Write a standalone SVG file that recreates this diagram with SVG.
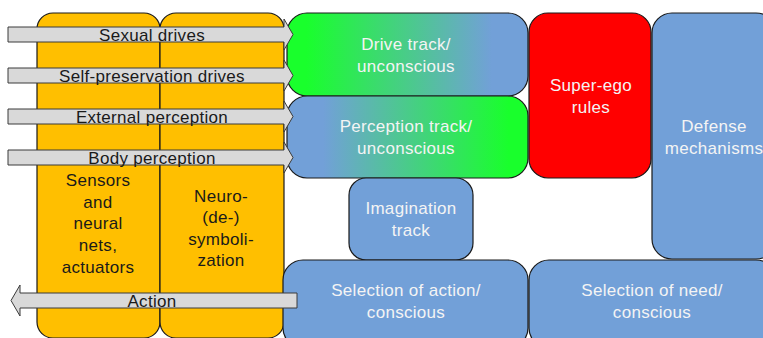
<svg xmlns="http://www.w3.org/2000/svg" width="763" height="338" viewBox="0 0 763 338">
  <defs>
    <linearGradient id="gradDrive" x1="287" y1="0" x2="528" y2="0" gradientUnits="userSpaceOnUse">
      <stop offset="0.08" stop-color="#19ff2c"/>
      <stop offset="0.85" stop-color="#72a0d8"/>
    </linearGradient>
    <linearGradient id="gradPerception" x1="287" y1="0" x2="528" y2="0" gradientUnits="userSpaceOnUse">
      <stop offset="0.15" stop-color="#72a0d8"/>
      <stop offset="0.92" stop-color="#19ff2c"/>
    </linearGradient>
    <style>
      .box { stroke: #1a1a1a; stroke-width: 1.2; }
      .yellow { fill: #ffbf00; }
      .blue { fill: #72a0d8; }
      .red { fill: #ff0000; }
      .arrow { fill: #d9d9d9; stroke: #3a3a3a; stroke-width: 1; }
      text { font-family: "Liberation Sans", Arial, sans-serif; font-size: 17px; text-anchor: middle; letter-spacing: 0.3px; }
      .dark { fill: #1a1a1a; }
      .light { fill: #f4f4f4; }
    </style>
  </defs>

  <!-- sensor / symbolization columns -->
  <g id="sensors">
    <rect class="box yellow" x="37" y="13" width="123" height="325" rx="16" ry="16"/>
    <text class="dark" x="98" y="186">Sensors</text>
    <text class="dark" x="98" y="207.5">and</text>
    <text class="dark" x="98" y="229">neural</text>
    <text class="dark" x="98" y="250.5">nets,</text>
    <text class="dark" x="98" y="272.5">actuators</text>
  </g>
  <g id="symbolization">
    <rect class="box yellow" x="160" y="13" width="124" height="325" rx="16" ry="16"/>
    <text class="dark" x="221" y="201.5">Neuro-</text>
    <text class="dark" x="221" y="223">(de-)</text>
    <text class="dark" x="221" y="244.5">symboli-</text>
    <text class="dark" x="221" y="266">zation</text>
  </g>

  <!-- processing tracks -->
  <g id="drive-track">
    <rect class="box" fill="url(#gradDrive)" x="287" y="13" width="241" height="83" rx="20" ry="20"/>
    <text class="light" x="406" y="50">Drive track/</text>
    <text class="light" x="406" y="71.5">unconscious</text>
  </g>
  <g id="perception-track">
    <rect class="box" fill="url(#gradPerception)" x="287" y="96" width="241" height="82" rx="20" ry="20"/>
    <text class="light" x="406" y="132">Perception track/</text>
    <text class="light" x="406" y="153.5">unconscious</text>
  </g>
  <g id="super-ego">
    <rect class="box red" x="529" y="13" width="122" height="165" rx="19" ry="19"/>
    <text class="light" x="591" y="90.5">Super-ego</text>
    <text class="light" x="591" y="112.5">rules</text>
  </g>
  <g id="defense">
    <rect class="box blue" x="652" y="13" width="124" height="246" rx="20" ry="20"/>
    <text class="light" x="714" y="131.5">Defense</text>
    <text class="light" x="714" y="153.5">mechanisms</text>
  </g>
  <g id="imagination">
    <rect class="box blue" x="349" y="178" width="124" height="82" rx="17" ry="17"/>
    <text class="light" x="411" y="214">Imagination</text>
    <text class="light" x="411" y="235.5">track</text>
  </g>
  <g id="selection-action">
    <rect class="box blue" x="283" y="260" width="245" height="88" rx="20" ry="20"/>
    <text class="light" x="406" y="296">Selection of action/</text>
    <text class="light" x="406" y="317.5">conscious</text>
  </g>
  <g id="selection-need">
    <rect class="box blue" x="529" y="260" width="247" height="88" rx="20" ry="20"/>
    <text class="light" x="652" y="296">Selection of need/</text>
    <text class="light" x="652" y="317.5">conscious</text>
  </g>

  <!-- signal arrows -->
  <g id="connectors">
    <g id="sexual-drives">
      <polygon class="arrow" points="8,27 284,27 284,19 293,34.5 284,50 284,42 8,42"/>
      <text class="dark" x="152" y="41">Sexual drives</text>
    </g>
    <g id="self-preservation">
      <polygon class="arrow" points="8,68 284,68 284,60 293,75.5 284,91 284,83 8,83"/>
      <text class="dark" x="152" y="82">Self-preservation drives</text>
    </g>
    <g id="external-perception">
      <polygon class="arrow" points="8,109 284,109 284,101 293,116.5 284,132 284,124 8,124"/>
      <text class="dark" x="152" y="123">External perception</text>
    </g>
    <g id="body-perception">
      <polygon class="arrow" points="8,150 284,150 284,142 293,157.5 284,173 284,165 8,165"/>
      <text class="dark" x="152" y="163.5">Body perception</text>
    </g>
    <g id="action">
      <polygon class="arrow" points="297,293 20,293 20,285 11,300.5 20,316 20,308 297,308"/>
      <text class="dark" x="152" y="306.5">Action</text>
    </g>
  </g>
</svg>
